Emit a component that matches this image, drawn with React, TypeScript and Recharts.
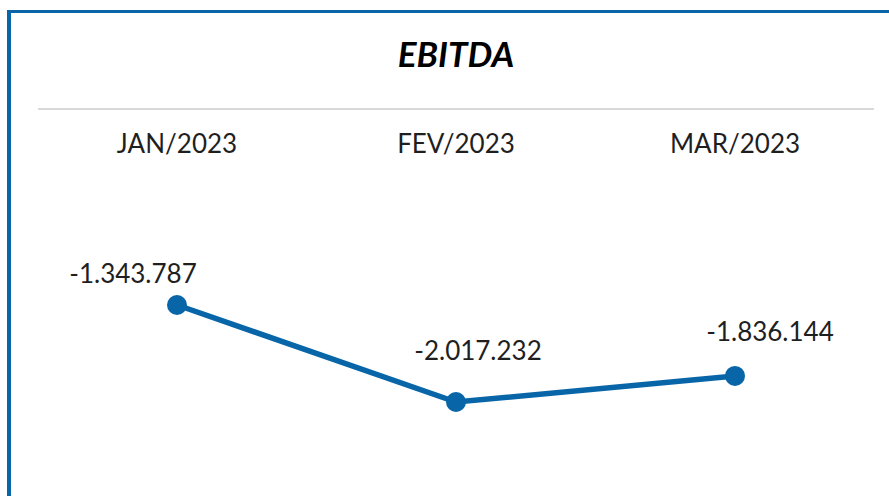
import React from 'react';
import { LineChart, Line, XAxis, YAxis, LabelList } from 'recharts';

const months = ['JAN/2023', 'FEV/2023', 'MAR/2023'];
const ebitda = [-1343787, -2017232, -1836144];

// where each value label sits relative to its point (dx, baseline dy)
const labelShift = [
  { dx: -44, dy: -22 },
  { dx: 22, dy: -42 },
  { dx: 35, dy: -35 },
];

const BLUE = '#0866a8';
const FONT = 'Lato, "Open Sans", sans-serif';

const formatBR = (value: number) => {
  const sign = value < 0 ? '-' : '';
  const digits = Math.abs(Math.round(value)).toString();
  return sign + digits.replace(/\B(?=(\d{3})+(?!\d))/g, '.');
};

const chartData = months.map((month, i) => ({ month, value: ebitda[i] }));

const MonthTick = (props: any) => {
  const { x, y, payload } = props;
  return (
    <text x={x} y={y + 1} textAnchor="middle" fill="#1f1f1f" fontSize={26} fontFamily={FONT}>
      {payload.value}
    </text>
  );
};

const ValueLabel = (props: any) => {
  const { x, y, value, index } = props;
  const shift = labelShift[index] || { dx: 0, dy: -20 };
  return (
    <text x={x + shift.dx} y={y + shift.dy} textAnchor="middle" fill="#1f1f1f" fontSize={26} fontFamily={FONT}>
      {formatBR(value)}
    </text>
  );
};

export default function App() {
  return (
    <div style={{ position: 'absolute', left: 0, top: 0, width: 889, height: 496, overflow: 'hidden', background: '#fff' }}>
      <div
        style={{
          position: 'absolute',
          left: 7,
          top: 10,
          width: 900,
          height: 500,
          borderLeft: `4px solid ${BLUE}`,
          borderTop: `3px solid ${BLUE}`,
        }}
      />
      <div
        style={{
          position: 'absolute',
          left: 38,
          top: 30,
          width: 836,
          textAlign: 'center',
          fontFamily: FONT,
          fontWeight: 700,
          fontStyle: 'italic',
          fontSize: 35,
          lineHeight: '46px',
          color: '#000',
        }}
      >
        EBITDA
      </div>
      <div style={{ position: 'absolute', left: 38, top: 108, width: 836, height: 2, background: '#d9d9d9' }} />
      <div style={{ position: 'absolute', left: 38, top: 110 }}>
        <LineChart width={836} height={386} data={chartData} margin={{ top: 0, right: 0, bottom: 0, left: 0 }}>
          <XAxis
            dataKey="month"
            orientation="top"
            height={50}
            axisLine={false}
            tickLine={false}
            padding={{ left: 139, right: 139 }}
            tick={<MonthTick />}
            interval={0}
          />
          <YAxis hide domain={[-2669800, -337100]} allowDataOverflow />
          <Line
            type="linear"
            dataKey="value"
            stroke={BLUE}
            strokeWidth={5.5}
            dot={{ r: 9, fill: BLUE, stroke: BLUE, strokeWidth: 2 }}
            activeDot={false}
            isAnimationActive={false}
          >
            <LabelList dataKey="value" content={<ValueLabel />} />
          </Line>
        </LineChart>
      </div>
    </div>
  );
}
